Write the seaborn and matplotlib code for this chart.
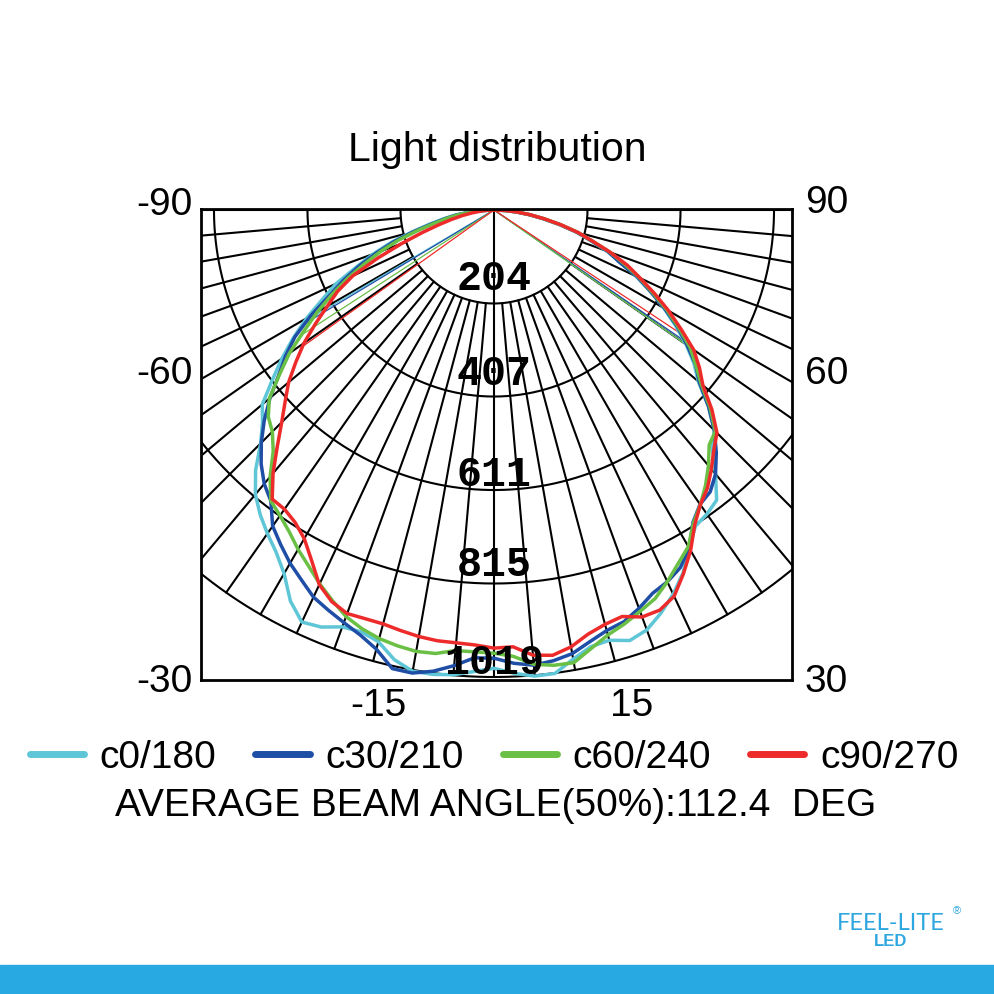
import numpy as np
import pandas as pd
import matplotlib
matplotlib.use("Agg")
import matplotlib.pyplot as plt
import seaborn as sns
from matplotlib.lines import Line2D
from matplotlib.patches import Rectangle

sns.set_theme(style="white")
plt.rcParams['font.family'] = ['Liberation Sans', 'DejaVu Sans']
plt.rcParams['text.color'] = 'black'

# ---------------- data ----------------
angles = [a * 2.5 for a in range(-36, 37)]  # -90 ... 90 deg, 0 = straight down

c0_180 = [0, 25, 55, 85, 112, 145, 185, 235, 280, 325, 380, 422, 472, 519, 565, 610, 660, 685,
          720, 770, 810, 838, 862, 885, 916, 962, 992, 985, 968, 965, 975, 1005, 1022, 1022, 1018, 1008,
          1000,
          1012, 1021, 1020, 995, 976, 972, 985, 975, 952, 925, 893, 852, 818, 810, 798, 752, 705, 680,
          635, 582, 550, 512, 470, 428, 385, 342, 300, 262, 220, 185, 145, 108, 76, 48, 23, 0]
c30_210 = [0, 24, 52, 82, 108, 138, 180, 228, 272, 318, 362, 405, 462, 515, 555, 592, 638, 680,
           718, 752, 780, 800, 842, 866, 890, 910, 932, 945, 958, 972, 992, 1025, 1026, 1015, 998, 978,
           978,
           990, 997, 992, 983, 965, 950, 942, 925, 905, 895, 880, 852, 808, 784, 775, 752, 718, 680,
           635, 585, 555, 515, 475, 430, 385, 345, 295, 265, 222, 188, 148, 110, 78, 50, 24, 0]
c60_240 = [0, 23, 50, 78, 104, 132, 172, 218, 262, 305, 352, 398, 445, 492, 545, 590, 640, 668,
           684, 713, 760, 800, 814, 832, 855, 876, 900, 922, 944, 958, 968, 974, 978, 976, 965, 965,
           967,
           975, 995, 1002, 1003, 980, 960, 947, 932, 918, 895, 870, 848, 810, 785, 758, 728, 695, 683,
           640, 590, 555, 522, 478, 435, 390, 350, 308, 270, 225, 190, 150, 112, 80, 52, 25, 0]
c90_270 = [0, 14, 30, 48, 70, 95, 125, 165, 215, 275, 340, 385, 420, 462, 506, 545, 585, 618,
           655, 700, 750, 795, 797, 808, 828, 862, 902, 925, 937, 935, 935, 940, 945, 948, 948, 950,
           956,
           954, 975, 980, 968, 948, 936, 930, 945, 945, 930, 895, 858, 815, 785, 765, 738, 710, 688,
           645, 595, 565, 532, 484, 440, 395, 352, 315, 270, 225, 190, 150, 112, 80, 50, 25, 0]

series_names = ["c0/180", "c30/210", "c60/240", "c90/270"]
series_values = [c0_180, c30_210, c60_240, c90_270]
colors = ["#5ec6d6", "#1f4ea6", "#6abf45", "#ee2b2b"]

# 50% beam lines (angle, intensity) per series: left and right
beam_angles = [[-59.5, 55.0], [-59.0, 55.5], [-57.0, 55.0], [-54.5, 56.5]]
beam_values = [[480, 512], [475, 505], [500, 522], [508, 500]]

ring_values = [204, 407, 611, 815, 1019]
ring_labels = ["204", "407", "611", "815", "1019"]
ray_step = 5
left_labels = ["-90", "-60", "-30"]
right_labels = ["90", "60", "30"]
bottom_labels = ["-15", "15"]
title = "Light distribution"
beam_text = "AVERAGE BEAM ANGLE(50%):112.4  DEG"

# ---------------- layout ----------------
W = H = 994
fig = plt.figure(figsize=(9.94, 9.94), dpi=100)


def fx(px):
    return px / W


def fy(py):
    return 1 - py / H


k = 0.4583            # px per intensity unit
cx, cy = 494, 210     # pole position in px
L, R, T, B = 201, 792, 209, 680
ax = fig.add_axes([fx(L), fy(B), (R - L) / W, (B - T) / H])
ax.set_xlim((L - cx) / k, (R - cx) / k)
ax.set_ylim(-(B - cy) / k, (cy - T) / k)
ax.set_xticks([])
ax.set_yticks([])
for s in ax.spines.values():
    s.set_color("black")
    s.set_linewidth(2.0)
    s.set_zorder(6)

# grid: rings and rays
t = np.linspace(0, 2 * np.pi, 1441)
for rv in ring_values:
    ax.plot(rv * np.cos(t), rv * np.sin(t), color="black", lw=1.5, zorder=1)
rmax = ring_values[-1]
for a in range(-90, 91, ray_step):
    r0 = 0 if a == 0 else ring_values[0]
    rad = np.deg2rad(a)
    ax.plot([r0 * np.sin(rad), rmax * np.sin(rad)], [-r0 * np.cos(rad), -rmax * np.cos(rad)],
            color="black", lw=1.5, zorder=1)

# curves
frames = []
th = np.deg2rad(np.array(angles))
for name, vals in zip(series_names, series_values):
    v = np.array(vals, dtype=float)
    frames.append(pd.DataFrame({"x": v * np.sin(th), "y": -v * np.cos(th), "series": name}))
df = pd.concat(frames, ignore_index=True)
sns.lineplot(data=df, x="x", y="y", hue="series", hue_order=series_names, palette=colors,
             estimator=None, sort=False, lw=2.5, legend=False, ax=ax, zorder=4)
ax.set_xlabel("")
ax.set_ylabel("")

# beam lines
for col, angs, vals in zip(colors, beam_angles, beam_values):
    for a, v in zip(angs, vals):
        rad = np.deg2rad(a)
        ax.plot([0, v * np.sin(rad)], [0, -v * np.cos(rad)], color=col, lw=0.9, zorder=3)

# ring labels (vertical pixel centres)
label_py = [278.5, 373.5, 474.5, 564.5, 662.5]
for lab, py in zip(ring_labels, label_py):
    ax.text(0, -(py - cy) / k, lab, ha="center", va="center", fontsize=30,
            family=["Liberation Mono", "DejaVu Sans Mono"], fontweight="bold", color="black", zorder=7)

# title and angle labels
fig.text(fx(497), fy(150), title, ha="center", va="center", fontsize=29.5)
for lab, py in zip(left_labels, [205, 374, 682]):
    fig.text(fx(193), fy(py), lab, ha="right", va="center", fontsize=28)
for lab, py in zip(right_labels, [203, 374, 682]):
    fig.text(fx(805), fy(py), lab, ha="left", va="center", fontsize=28)
for lab, px in zip(bottom_labels, [378, 632]):
    fig.text(fx(px), fy(706), lab, ha="center", va="center", fontsize=28)

# legend
handles = [Line2D([], [], color=c, lw=5, solid_capstyle="round") for c in colors]
leg = fig.legend(handles, series_names, loc="center", bbox_to_anchor=(fx(494), fy(758)), ncol=4,
                 frameon=False, fontsize=28, handlelength=1.4, handletextpad=0.4, columnspacing=1.0)
for txt in leg.get_texts():
    txt.set_color("black")
fig.text(fx(496), fy(806), beam_text, ha="center", va="center", fontsize=28)

# logo and band
fig.text(fx(891), fy(923), "FEEL-LITE", ha="center", va="center", fontsize=17,
         family=["Lato", "DejaVu Sans"], color="#2ea6df")
fig.text(fx(891), fy(942), "LED", ha="center", va="center", fontsize=12,
         fontweight="bold", color="#2ea6df")
fig.text(fx(957), fy(911), "®", ha="center", va="center", fontsize=8, color="#2ea6df")
fig.patches.append(Rectangle((0, 0), 1, (H - 965) / H, transform=fig.transFigure,
                             color="#29a9e1", zorder=0))

fig.savefig("out.png", dpi=100, facecolor="white")
